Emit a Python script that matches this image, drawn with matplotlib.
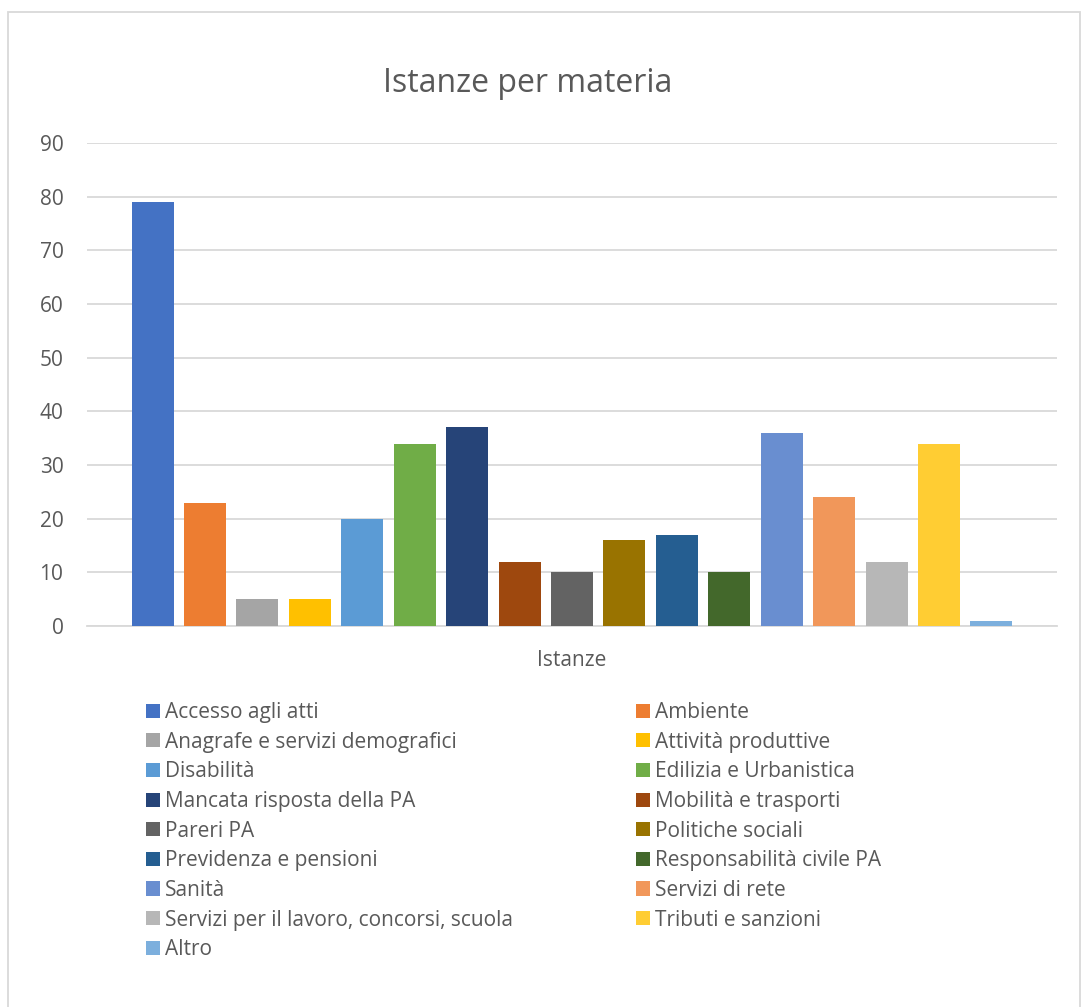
import numpy as np
import matplotlib.pyplot as plt
from matplotlib.patches import Rectangle

plt.rcParams['font.family'] = ['Open Sans', 'DejaVu Sans']

materie = ['Accesso agli atti', 'Ambiente', 'Anagrafe e servizi demografici',
           'Attività produttive', 'Disabilità', 'Edilizia e Urbanistica',
           'Mancata risposta della PA', 'Mobilità e trasporti', 'Pareri PA',
           'Politiche sociali', 'Previdenza e pensioni', 'Responsabilità civile PA',
           'Sanità', 'Servizi di rete', 'Servizi per il lavoro, concorsi, scuola',
           'Tributi e sanzioni', 'Altro']
istanze = [79, 23, 5, 5, 20, 34, 37, 12, 10, 16, 17, 10, 36, 24, 12, 34, 1]
colori = ['#4472C4', '#ED7D31', '#A5A5A5', '#FFC000', '#5B9BD5', '#70AD47',
          '#264478', '#9E480E', '#636363', '#997300', '#255E91', '#43682B',
          '#698ED0', '#F1975A', '#B7B7B7', '#FFCD33', '#7CAFDD']

fig = plt.figure(figsize=(10.87, 10.07), dpi=100)
fig.patches.append(Rectangle((8 / 1087, -0.05), 1072 / 1087, 1.05 - 12 / 1007,
                             transform=fig.transFigure, fill=False,
                             edgecolor='#D9D9D9', linewidth=1.3))

ax = fig.add_axes([87 / 1087, 1 - 626 / 1007, 970 / 1087, 483 / 1007])
x = np.arange(len(istanze))
bars = []
for i in range(len(istanze)):
    b = ax.bar(x[i], istanze[i], width=0.8, color=colori[i], label=materie[i], zorder=3)
    bars.append(b)

ax.set_xlim(-1.25, 17.25)
ax.set_ylim(0, 90)
ax.set_yticks(range(0, 91, 10))
ax.yaxis.grid(True, color='#D9D9D9', linewidth=1.3, zorder=0)
for s in ['top', 'right', 'left']:
    ax.spines[s].set_visible(False)
ax.spines['bottom'].set_color('#D9D9D9')
ax.spines['bottom'].set_linewidth(1.3)
ax.tick_params(axis='y', length=0, labelsize=15, labelcolor='#595959', pad=17)
ax.set_xticks([8])
ax.set_xticklabels(['Istanze'])
ax.tick_params(axis='x', length=0, labelsize=15, labelcolor='#595959', pad=17)

fig.text(528 / 1087, 1 - 83 / 1007, 'Istanze per materia', ha='center', va='center',
         fontsize=23, color='#595959')

# legenda per righe come in Excel
ordine = list(range(0, 17, 2)) + list(range(1, 17, 2))
leg = ax.legend([bars[i] for i in ordine], [materie[i] for i in ordine],
                ncol=2, loc='upper left', bbox_to_anchor=(146 / 1087, 1 - 702 / 1007),
                bbox_transform=fig.transFigure, frameon=False, fontsize=15,
                handlelength=0.67, handleheight=0.67, handletextpad=0.25,
                labelspacing=0.415, columnspacing=5.9, borderaxespad=0, borderpad=0)
for t in leg.get_texts():
    t.set_color('#595959')

fig.savefig('out.png', dpi=100)
